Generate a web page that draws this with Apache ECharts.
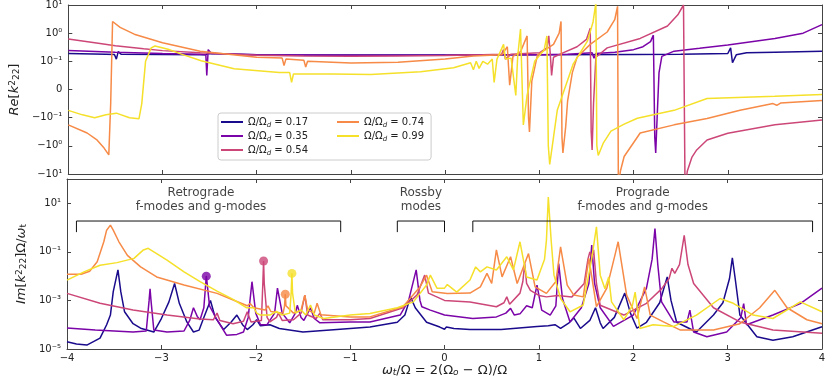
<!DOCTYPE html>
<html>
<head>
<meta charset="utf-8">
<script src="https://cdn.jsdelivr.net/npm/echarts@6/dist/echarts.min.js"></script>
<style>
  html, body { margin: 0; padding: 0; background: #fff; }
  #chart { width: 830px; height: 389px; }
</style>
</head>
<body>
<div id="chart"></div>
<script>
// Omega / Omega_d of each curve
const ratios = ['0.17', '0.35', '0.54', '0.74', '0.99'];
const colors = ['#1a0b8c', '#7b04a8', '#cc4778', '#f68a46', '#f5e02a'];

// Re[k22^2] (top panel, symlog axis)
const re017 = [[-4,0.19],[-3.6,0.18],[-3.51,0.175],[-3.49,0.12],[-3.47,0.22],[-3.44,0.18],[-3,0.175],[-2.55,0.17],[-2.53,0.15],[-2.51,0.19],[-2,0.17],[-1,0.168],[0,0.168],[1,0.17],[2,0.175],[2.5,0.18],[3.0,0.19],[3.03,0.3],[3.05,0.095],[3.09,0.17],[3.2,0.2],[3.5,0.21],[4,0.23]];
const re035 = [[-4,0.24],[-3.5,0.21],[-3,0.19],[-2.6,0.18],[-2.54,0.17],[-2.53,0.05],[-2.515,0.26],[-2.48,0.19],[-2,0.17],[-1,0.165],[0,0.165],[0.5,0.17],[1,0.17],[1.3,0.18],[1.56,0.2],[1.58,0.13],[1.6,0.19],[1.8,0.21],[2.0,0.26],[2.1,0.33],[2.18,0.5],[2.21,0.85],[2.225,-0.5],[2.235,-1.8],[2.25,-0.1],[2.27,0.06],[2.3,0.15],[2.43,0.23],[2.7,0.29],[3.0,0.38],[3.5,0.65],[3.8,1.0],[4,2.0]];
const re054 = [[-4,0.62],[-3.7,0.45],[-3.5,0.36],[-3.2,0.28],[-3,0.24],[-2.6,0.2],[-2,0.165],[-1.5,0.155],[-1,0.15],[-0.5,0.155],[0,0.16],[0.4,0.17],[0.6,0.18],[0.62,0.26],[0.64,0.12],[0.7,0.18],[1.0,0.2],[1.08,0.3],[1.10,0.8],[1.115,0.2],[1.13,0.05],[1.15,0.14],[1.25,0.2],[1.4,0.33],[1.5,0.6],[1.54,1.5],[1.55,-0.3],[1.56,-1.4],[1.575,-0.05],[1.6,0.14],[1.72,0.3],[2.07,0.65],[2.36,1.8],[2.47,4.5],[2.53,10],[2.545,-10],[2.555,-20],[2.57,-8],[2.62,-2.5],[2.67,-1.4],[2.78,-0.62],[3.0,-0.36],[3.5,-0.18],[4,-0.12]];
const re074 = [[-4,-0.18],[-3.8,-0.35],[-3.7,-0.6],[-3.62,-1.2],[-3.57,-2.1],[-3.55,-0.05],[-3.53,2.6],[-3.45,1.6],[-3.3,0.92],[-3.0,0.46],[-2.6,0.23],[-2.0,0.14],[-1.73,0.13],[-1.71,0.085],[-1.69,0.12],[-1.5,0.11],[-1.48,0.08],[-1.46,0.1],[-1.0,0.094],[-0.5,0.097],[0,0.12],[0.3,0.155],[0.6,0.17],[0.66,0.33],[0.685,0.015],[0.72,0.15],[0.8,0.22],[0.87,0.8],[0.885,-0.1],[0.895,-0.32],[0.92,0.03],[0.98,0.17],[1.15,0.4],[1.21,1.0],[1.23,2.6],[1.24,-0.5],[1.25,-1.8],[1.28,-0.2],[1.30,-0.04],[1.35,0.06],[1.40,0.14],[1.54,0.4],[1.72,1.1],[1.80,3],[1.83,9],[1.838,-10],[1.845,-20],[1.86,-8],[1.90,-2.4],[2.07,-0.35],[2.43,-0.18],[2.78,-0.107],[3.13,-0.074],[3.48,-0.05],[3.52,-0.056],[3.56,-0.048],[4,-0.039]];
const re099 = [[-4,-0.074],[-3.85,-0.09],[-3.72,-0.1],[-3.6,-0.09],[-3.49,-0.084],[-3.35,-0.1],[-3.25,-0.11],[-3.22,-0.05],[-3.18,0.1],[-3.12,0.3],[-3.08,0.35],[-2.94,0.27],[-2.8,0.18],[-2.59,0.105],[-2.24,0.074],[-1.76,0.06],[-1.65,0.06],[-1.63,0.025],[-1.61,0.055],[-1.2,0.055],[-0.79,0.053],[-0.26,0.063],[0.09,0.077],[0.27,0.095],[0.3,0.07],[0.33,0.1],[0.36,0.075],[0.4,0.1],[0.45,0.09],[0.5,0.12],[0.52,0.025],[0.55,0.12],[0.62,0.4],[0.64,0.12],[0.7,0.13],[0.75,-0.021],[0.77,0.15],[0.80,1.4],[0.83,-0.18],[0.87,-0.02],[0.95,0.1],[1.05,0.25],[1.08,0.8],[1.095,-1],[1.11,-4.6],[1.15,-0.5],[1.19,-0.074],[1.36,0.091],[1.51,0.52],[1.57,2.5],[1.60,12],[1.61,-1],[1.625,-2.2],[1.68,-0.78],[1.76,-0.3],[1.9,-0.17],[2.04,-0.105],[2.43,-0.074],[2.78,-0.032],[3.5,-0.024],[4,-0.0175]];

// Im[k22^2] Omega/omega_t (bottom panel, log axis)
const im017 = [[-4,2.0e-5],[-3.9,1.6e-5],[-3.79,1.45e-5],[-3.65,2.8e-5],[-3.58,1e-4],[-3.54,2.5e-4],[-3.51,2.3e-3],[-3.46,1.8e-2],[-3.43,2.3e-3],[-3.39,3.4e-4],[-3.30,1.1e-4],[-3.22,7.2e-5],[-3.08,5e-5],[-3.0,1.8e-4],[-2.92,8.7e-4],[-2.86,5e-3],[-2.81,7.6e-4],[-2.73,1.3e-4],[-2.66,5e-5],[-2.6,6e-5],[-2.55,2e-4],[-2.48,1e-3],[-2.43,2e-4],[-2.34,6.3e-5],[-2.26,1.3e-4],[-2.20,2.5e-4],[-2.14,1e-4],[-2.09,6.3e-5],[-2.03,1e-4],[-1.99,1.6e-4],[-1.95,9e-5],[-1.85,1e-4],[-1.75,7e-5],[-1.5,5e-5],[-1.14,6.3e-5],[-0.79,8e-5],[-0.5,1.26e-4],[-0.42,2.5e-4],[-0.36,1.4e-3],[-0.31,5e-4],[-0.19,1.26e-4],[-0.05,8e-5],[0.0,6.5e-5],[0.02,8e-5],[0.1,7e-5],[0.27,6.3e-5],[0.6,6.3e-5],[0.98,8.5e-5],[1.1,9e-5],[1.17,1e-4],[1.23,7e-5],[1.32,1.2e-4],[1.37,1.9e-4],[1.44,7e-5],[1.54,1.5e-4],[1.60,5e-4],[1.65,1.2e-4],[1.68,7e-5],[1.8,2e-4],[1.91,2e-3],[1.97,3e-4],[2.04,7.2e-5],[2.14,1.26e-4],[2.28,8e-4],[2.36,9.3e-3],[2.40,1e-3],[2.46,1.26e-4],[2.67,5e-5],[2.85,2.5e-4],[2.95,8e-4],[3.02,8e-3],[3.05,5.6e-2],[3.08,8e-3],[3.13,2.5e-4],[3.31,3.2e-5],[3.48,2.3e-5],[3.69,3.2e-5],[4,8.3e-5]];
const im035 = [[-4,7.4e-5],[-3.7,6e-5],[-3.3,5e-5],[-3.16,5.5e-5],[-3.13,1e-3],[-3.12,3e-3],[-3.11,1e-3],[-3.08,6e-5],[-2.94,5e-5],[-2.76,5.5e-5],[-2.70,1.5e-4],[-2.66,5e-4],[-2.62,2.2e-4],[-2.59,1.6e-4],[-2.55,5e-4],[-2.53,5e-3],[-2.524,1e-2],[-2.515,5e-3],[-2.49,6e-4],[-2.41,1.6e-4],[-2.31,3.7e-5],[-2.2,4e-5],[-2.13,5e-5],[-2.08,2e-4],[-2.04,5.9e-3],[-2.00,3e-4],[-1.95,1e-4],[-1.88,1e-4],[-1.80,3e-4],[-1.77,3.2e-3],[-1.72,3e-4],[-1.64,1.2e-4],[-1.58,3e-4],[-1.56,6.3e-4],[-1.52,2e-4],[-1.49,1.5e-4],[-1.42,5e-4],[-1.38,1.8e-4],[-1.32,1.2e-4],[-1.0,1.3e-4],[-0.79,1.3e-4],[-0.47,2.5e-4],[-0.38,1e-3],[-0.30,1.8e-2],[-0.26,1e-3],[-0.24,5.5e-4],[-0.15,4e-4],[0,2.5e-4],[0.3,1.8e-4],[0.55,2.1e-4],[0.65,3e-4],[0.70,4.7e-4],[0.74,2.5e-4],[0.80,2.8e-4],[0.87,6e-4],[0.93,5e-4],[0.98,4.3e-3],[1.03,4e-4],[1.12,2.5e-4],[1.18,6e-4],[1.21,3.3e-2],[1.25,1.2e-3],[1.33,1.3e-4],[1.45,5e-4],[1.53,5e-3],[1.56,1.9e-1],[1.59,5e-3],[1.65,5e-4],[1.79,8.5e-5],[2.0,2.5e-4],[2.14,3.2e-3],[2.20,5e-2],[2.23,9e-1],[2.26,3e-2],[2.30,8.7e-4],[2.43,1.3e-4],[2.57,1.3e-4],[2.60,4e-4],[2.64,5e-5],[2.78,3.2e-5],[2.99,5e-5],[3.14,2e-4],[3.17,7.4e-4],[3.20,1e-4],[3.48,2.5e-4],[3.77,7.4e-4],[4,3.2e-3]];
const im054 = [[-4,1.95e-3],[-3.65,7.6e-4],[-3.3,4e-4],[-2.94,2.5e-4],[-2.59,1.7e-4],[-2.45,1.6e-4],[-2.41,3e-4],[-2.38,1.5e-4],[-2.24,1.1e-4],[-2.13,1.4e-4],[-2.09,3.4e-4],[-2.05,1.3e-4],[-1.94,1.5e-4],[-1.925,5e-3],[-1.917,4.2e-2],[-1.91,5e-3],[-1.88,2e-4],[-1.85,1.3e-4],[-1.78,2e-4],[-1.76,3e-4],[-1.72,1.5e-4],[-1.6,1.6e-4],[-1.52,3e-4],[-1.48,1.66e-3],[-1.45,2.5e-4],[-1.36,1.8e-4],[-1.32,3e-4],[-1.29,1.6e-4],[-1.0,1.6e-4],[-0.79,1.8e-4],[-0.44,5e-4],[-0.29,1.7e-3],[-0.21,1.1e-2],[-0.17,2e-3],[-0.1,1.5e-3],[0,1e-3],[0.27,8.7e-4],[0.55,5.5e-4],[0.63,8e-4],[0.66,1.4e-3],[0.69,7e-4],[0.80,2e-3],[0.83,6e-3],[0.85,3.3e-2],[0.87,5e-3],[0.91,2.6e-3],[1.0,1.6e-3],[1.08,1.4e-3],[1.2,1.6e-3],[1.35,1.4e-3],[1.48,5e-3],[1.52,5e-2],[1.54,0.1],[1.56,0.06],[1.58,0.12],[1.61,5e-3],[1.65,6.3e-4],[1.90,2.5e-4],[2.14,7.6e-4],[2.30,3e-3],[2.38,8e-3],[2.41,2.1e-2],[2.44,1.3e-2],[2.49,3e-2],[2.54,0.48],[2.58,3e-2],[2.64,5e-3],[2.85,5e-4],[3.13,1.3e-4],[3.48,6e-5],[4,4.5e-5]];
const im074 = [[-4,1.2e-2],[-3.85,1.2e-2],[-3.76,1.6e-2],[-3.68,3.9e-2],[-3.61,0.26],[-3.58,0.78],[-3.54,1.26],[-3.51,0.78],[-3.45,0.26],[-3.36,7.2e-2],[-3.22,2.4e-2],[-3.05,9.3e-3],[-2.76,4.3e-3],[-2.41,1.95e-3],[-2.2,9e-4],[-2.09,6e-4],[-2.06,7.5e-4],[-2.02,5e-4],[-1.90,4e-4],[-1.87,6e-4],[-1.84,3.5e-4],[-1.71,3e-4],[-1.695,6e-4],[-1.687,1.8e-3],[-1.68,6e-4],[-1.6,3e-4],[-1.52,4e-4],[-1.48,1.66e-3],[-1.45,4e-4],[-1.38,3e-4],[-1.35,7.6e-4],[-1.31,2.6e-4],[-1.0,2.1e-4],[-0.79,2.1e-4],[-0.44,5.5e-4],[-0.26,3.6e-3],[-0.19,1.1e-2],[-0.13,2.3e-3],[0.03,1.95e-3],[0.27,2e-3],[0.38,3.6e-3],[0.45,1.3e-2],[0.5,5e-3],[0.55,0.12],[0.61,9.3e-3],[0.70,6.3e-2],[0.77,5e-3],[0.89,8.5e-2],[0.96,3.6e-3],[1.08,1.95e-3],[1.18,6e-3],[1.23,0.16],[1.30,4.3e-3],[1.37,1.66e-3],[1.47,1.4e-3],[1.53,5.4e-2],[1.61,5.5e-4],[1.72,3.2e-3],[1.81,8.5e-2],[1.84,0.26],[1.93,1.66e-3],[2.04,1.8e-4],[2.12,3.6e-3],[2.18,2.5e-4],[2.32,1.3e-4],[2.5,6e-5],[2.85,6e-5],[3.13,1.1e-4],[3.34,5e-4],[3.5,2.6e-3],[3.63,5e-4],[3.84,1.6e-4],[4,1.1e-4]];
const im099 = [[-4,6.9e-3],[-3.82,1.5e-2],[-3.65,2.8e-2],[-3.47,3.6e-2],[-3.29,5.4e-2],[-3.19,0.12],[-3.14,0.14],[-3.05,8.5e-2],[-2.94,4.6e-2],[-2.76,1.5e-2],[-2.59,5.9e-3],[-2.41,2.4e-3],[-2.24,1.1e-3],[-2.1,5e-4],[-2.02,5e-4],[-1.99,3e-4],[-1.95,2.5e-4],[-1.85,2.5e-4],[-1.78,3.5e-4],[-1.72,2.5e-4],[-1.64,3e-4],[-1.625,2e-3],[-1.617,1.3e-2],[-1.61,2e-3],[-1.58,3e-4],[-1.52,4e-4],[-1.47,2.5e-4],[-1.42,6.5e-4],[-1.38,2.5e-4],[-1.28,1.8e-4],[-1.0,2.5e-4],[-0.79,2.9e-4],[-0.5,5e-4],[-0.33,8.7e-4],[-0.19,4.3e-3],[-0.15,1.1e-2],[-0.08,3.2e-3],[0,3.2e-3],[0.03,4.5e-3],[0.13,2.2e-3],[0.27,6.9e-3],[0.33,2.4e-2],[0.38,1.5e-2],[0.45,2.4e-2],[0.55,1.8e-2],[0.66,6.3e-2],[0.73,1.8e-2],[0.80,0.26],[0.87,9.3e-3],[0.98,6.9e-3],[1.06,5e-2],[1.08,0.3],[1.10,18],[1.13,0.3],[1.16,1.1e-2],[1.23,1.2e-3],[1.33,3.4e-4],[1.47,6.5e-4],[1.56,5.4e-2],[1.61,1.07],[1.65,1.1e-2],[1.70,3e-3],[1.74,9.3e-3],[1.77,8.7e-4],[1.90,1.6e-4],[1.99,6e-4],[2.02,2.2e-3],[2.07,7e-5],[2.21,1e-4],[2.43,8.5e-5],[2.67,2.5e-4],[2.92,1.2e-3],[3.06,7.6e-4],[3.27,2.5e-4],[3.48,1.8e-4],[3.77,8.7e-4],[4,3.4e-4]];

// marked resonances (series index, x, value)
const peakDots = [[1,-2.524,1.0e-2],[2,-1.917,4.2e-2],[3,-1.687,1.8e-3],[4,-1.617,1.3e-2]];

// mode brackets in the bottom panel
const brackets = [
  [[-3.9,0.65],[-3.9,1.86],[-1.1,1.86],[-1.1,0.65]],
  [[-0.5,0.65],[-0.5,1.86],[0,1.86],[0,0.65]],
  [[0.3,0.65],[0.3,1.86],[3.9,1.86],[3.9,0.65]]
];
const modeLabels = [[-2.58,'Retrograde\nf-modes and g-modes'],[-0.25,'Rossby\nmodes'],[2.1,'Prograde\nf-modes and g-modes']];
const modeLabelY = 14;

const reTickValues = [-3,-2,-1,0,1,2,3];
const reTickLabels = ['−10¹','−10⁰','−10⁻¹','0','10⁻¹','10⁰','10¹'];
const imTickValues = [-5,-3,-1,1];
const imTickLabels = ['10⁻⁵','10⁻³','10⁻¹','10¹'];

const reData = [re017, re035, re054, re074, re099];
const imData = [im017, im035, im054, im074, im099];

// symlog with linthresh 0.1 (one decade for the linear part)
function symlog(v) {
  const a = Math.abs(v);
  const t = a <= 0.1 ? a / 0.1 : 1 + Math.log10(a / 0.1);
  return v < 0 ? -t : t;
}

const frame = { show: true, onZero: false, lineStyle: { color: '#444', width: 1 } };
const tick = { show: true, inside: true, length: 4, lineStyle: { color: '#444' } };

function xAx(grid, pos, labels) {
  return {
    gridIndex: grid, type: 'value', position: pos, min: -4, max: 4, interval: 1,
    axisLine: frame, axisTick: tick, splitLine: { show: false },
    axisLabel: { show: labels, fontSize: 10, color: '#222', margin: 4,
      formatter: v => String(v).replace('-', '−') }
  };
}

const legendText = { rich: {
  a: { fontSize: 10, color: '#222', lineHeight: 14 },
  d: { fontSize: 7, fontStyle: 'italic', color: '#222', verticalAlign: 'bottom', lineHeight: 7 }
} };

const option = {
  animation: false,
  textStyle: { fontFamily: 'DejaVu Sans' },
  grid: [
    { left: 67, right: 8, top: 4, height: 170 },
    { left: 67, right: 8, top: 179, height: 170 }
  ],
  xAxis: [
    xAx(0, 'bottom', false),
    xAx(0, 'top', false),
    Object.assign(xAx(1, 'bottom', true), {
      name: '{i|ω}{s|t}/Ω = 2(Ω{s|o} − Ω)/Ω',
      nameLocation: 'middle', nameGap: 15,
      nameTextStyle: { fontSize: 13, color: '#222',
        rich: { i: { fontSize: 13, fontStyle: 'italic' }, s: { fontSize: 9, fontStyle: 'italic', verticalAlign: 'bottom', lineHeight: 9 } } }
    }),
    xAx(1, 'top', false)
  ],
  yAxis: [
    {
      gridIndex: 0, type: 'value', min: -3, max: 3, interval: 1,
      axisLine: frame, axisTick: tick, splitLine: { show: false },
      axisLabel: { fontSize: 10, color: '#222', margin: 6,
        formatter: v => { const i = reTickValues.indexOf(v); return i < 0 ? '' : reTickLabels[i]; } },
      name: '{i|Re}[{i|k}{p|2}{s|22}]', nameLocation: 'middle', nameGap: 46,
      nameTextStyle: { fontSize: 13, color: '#222',
        rich: { i: { fontSize: 13, fontStyle: 'italic' }, p: { fontSize: 9, verticalAlign: 'top', lineHeight: 9 }, s: { fontSize: 9, verticalAlign: 'bottom', lineHeight: 9 } } }
    },
    { gridIndex: 0, type: 'value', position: 'right', min: -3, max: 3, interval: 1,
      axisLine: frame, axisTick: tick, splitLine: { show: false }, axisLabel: { show: false } },
    {
      gridIndex: 1, type: 'value', min: -5, max: 2, interval: 2,
      axisLine: frame, axisTick: tick, splitLine: { show: false },
      axisLabel: { fontSize: 10, color: '#222', margin: 6,
        formatter: v => { const i = imTickValues.indexOf(v); return i < 0 ? '' : imTickLabels[i]; } },
      name: '{i|Im}[{i|k}{p|2}{s|22}]Ω/{i|ω}{s|t}', nameLocation: 'middle', nameGap: 34,
      nameTextStyle: { fontSize: 13, color: '#222',
        rich: { i: { fontSize: 13, fontStyle: 'italic' }, p: { fontSize: 9, verticalAlign: 'top', lineHeight: 9 }, s: { fontSize: 9, verticalAlign: 'bottom', lineHeight: 9 } } }
    },
    { gridIndex: 1, type: 'value', position: 'right', min: -5, max: 2, interval: 2,
      axisLine: frame, axisTick: tick, splitLine: { show: false }, axisLabel: { show: false } }
  ],
  legend: [
    {
      data: ratios.slice(0, 3), orient: 'vertical', left: 218, top: 113,
      icon: 'rect', itemWidth: 22, itemHeight: 2, itemGap: 2,
      padding: [4, 123, 3, 3], borderColor: '#ccc', borderWidth: 1, borderRadius: 3,
      backgroundColor: 'rgba(255,255,255,0.85)',
      formatter: n => '{a|Ω/Ω}{d|d}{a| = ' + n + '}',
      textStyle: legendText
    },
    {
      data: ratios.slice(3), orient: 'vertical', left: 337, top: 117,
      icon: 'rect', itemWidth: 22, itemHeight: 2, itemGap: 2, padding: 0,
      formatter: n => '{a|Ω/Ω}{d|d}{a| = ' + n + '}',
      textStyle: legendText
    }
  ],
  series: []
};

ratios.forEach((r, k) => {
  option.series.push({
    name: r, type: 'line', xAxisIndex: 0, yAxisIndex: 0, showSymbol: false, symbol: 'none',
    lineStyle: { width: 1.5, color: colors[k] }, itemStyle: { color: colors[k] },
    data: reData[k].map(p => [p[0], symlog(p[1])])
  });
});
ratios.forEach((r, k) => {
  option.series.push({
    name: r, type: 'line', xAxisIndex: 2, yAxisIndex: 2, showSymbol: false, symbol: 'none',
    lineStyle: { width: 1.5, color: colors[k] }, itemStyle: { color: colors[k] },
    data: imData[k].map(p => [p[0], Math.log10(p[1])])
  });
});
brackets.forEach(b => {
  option.series.push({
    type: 'line', xAxisIndex: 2, yAxisIndex: 2, showSymbol: false, symbol: 'none',
    lineStyle: { width: 1, color: '#111' }, data: b.map(p => [p[0], Math.log10(p[1])])
  });
});
option.series.push({
  type: 'scatter', xAxisIndex: 2, yAxisIndex: 2, symbolSize: 9, z: 5,
  data: peakDots.map(d => ({ value: [d[1], Math.log10(d[2])], itemStyle: { color: colors[d[0]] } }))
});
option.series.push({
  type: 'scatter', xAxisIndex: 2, yAxisIndex: 2, symbolSize: 0, silent: true,
  data: modeLabels.map(m => ({ value: [m[0], Math.log10(modeLabelY)], name: m[1] })),
  label: { show: true, position: 'inside', formatter: '{b}', fontSize: 12, lineHeight: 14.5,
    color: '#111', align: 'center' }
});

const chart = echarts.init(document.getElementById('chart'), null, { renderer: 'canvas' });
chart.setOption(option);
</script>
</body>
</html>
